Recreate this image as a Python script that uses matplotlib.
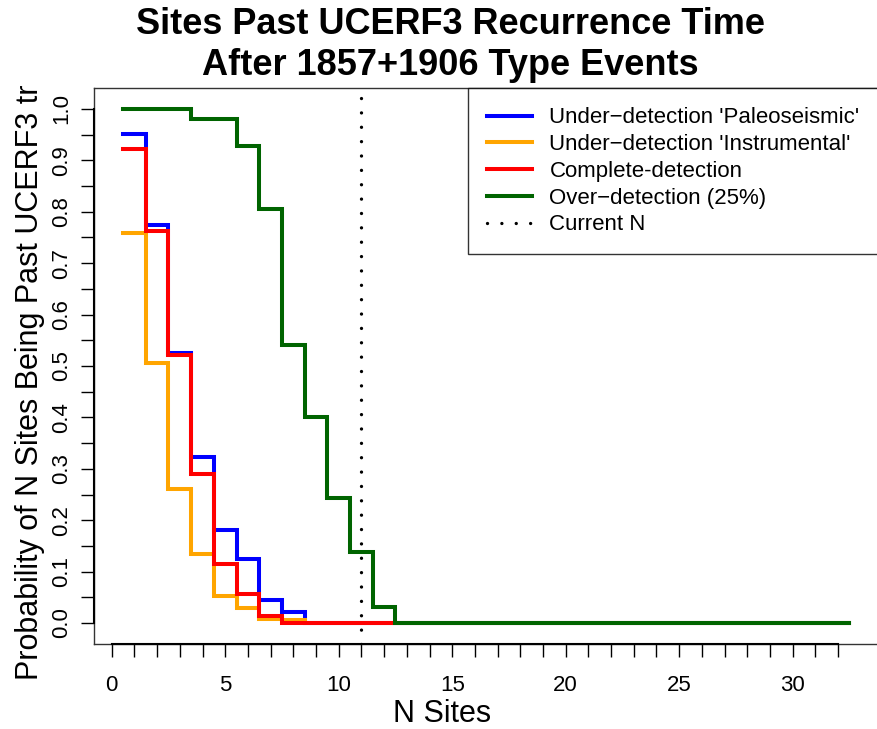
import numpy as np
import matplotlib
matplotlib.use("Agg")
import matplotlib.pyplot as plt

# Probability that N sites are past their UCERF3 recurrence time, N = 1..32
n_sites = np.arange(1, 33)
paleo = [0.951, 0.774, 0.525, 0.323, 0.181, 0.124, 0.045, 0.022] + [0.0] * 24
instrumental = [0.758, 0.505, 0.261, 0.134, 0.053, 0.030, 0.008, 0.005] + [0.0] * 24
complete = [0.922, 0.763, 0.521, 0.289, 0.115, 0.056, 0.014, 0.0] + [0.0] * 24
over = [1.0, 1.0, 1.0, 0.980, 0.980, 0.928, 0.805, 0.541, 0.401, 0.244,
        0.138, 0.032] + [0.0] * 20
current_n = 11

series = [
    ("Under\u2212detection 'Paleoseismic'", paleo, "#0000FF"),
    ("Under\u2212detection 'Instrumental'", instrumental, "#FFA500"),
    ("Complete-detection", complete, "#FF0000"),
    ("Over\u2212detection (25%)", over, "#006400"),
]

plt.rcParams["font.family"] = ["Liberation Sans", "DejaVu Sans"]

W, H = 877, 729
fig = plt.figure(figsize=(W / 100, H / 100), dpi=100)
left, right, top, bottom = 94, 878.5, 88.4, 643.6
ax = fig.add_axes([left / W, (H - bottom) / H, (right - left) / W, (bottom - top) / H])

edges = np.append(n_sites - 0.5, n_sites[-1] + 0.5)
handles = []
for label, vals, color in series:
    y = np.append(vals, vals[-1])
    h, = ax.step(edges, y, where="post", color=color, lw=2.9, label=label,
                 solid_joinstyle="miter")
    handles.append(h)

vl = ax.axvline(current_n, color="black", lw=2.4, linestyle=(0, (0.01, 4.3)),
                dash_capstyle="round", label="Current N")
handles.append(vl)

xmin, xmax = edges[0], edges[-1]
ax.set_xlim(xmin - 0.04 * (xmax - xmin), xmax + 0.04 * (xmax - xmin))
ax.set_ylim(-0.04, 1.04)

ax.set_xticks(np.arange(0, 33))
ax.set_xticklabels([str(v) if v % 5 == 0 else "" for v in range(33)])
yt = np.arange(0, 1.0001, 0.05)
ax.set_yticks(yt)
ax.set_yticklabels([f"{v:.1f}" if i % 2 == 0 else "" for i, v in enumerate(yt)],
                   rotation=90, va="center")

ax.tick_params(axis="both", direction="out", length=9.5, width=1.0, color="black",
               labelsize=16)
ax.tick_params(axis="x", pad=13)
ax.tick_params(axis="y", pad=6)
for s in ax.spines.values():
    s.set_color("#333333")
    s.set_linewidth(1.0)

# axis lines spanning the tick range
ax.plot([0, 32], [-0.04, -0.04], color="black", lw=1.5, clip_on=False, zorder=5)
ax.plot([xmin - 0.04 * (xmax - xmin)] * 2, [0, 1], color="black", lw=1.5, clip_on=False, zorder=5)

ax.set_xlabel("N Sites", fontsize=22)
ax.xaxis.set_label_coords((442 - left) / (right - left), -(714 - bottom) / (bottom - top))
ax.xaxis.label.set_va("center")
ax.set_ylabel("Probability of N Sites Being Past UCERF3 tr", fontsize=22)
ax.yaxis.set_label_coords(-(left - 30) / (right - left), (bottom - 382) / (bottom - top))
ax.yaxis.label.set_va("center")

fig.text(450 / W, 1 - 45 / H, "Sites Past UCERF3 Recurrence Time\nAfter 1857+1906 Type Events",
         fontsize=26, fontweight="bold", ha="center", va="center", linespacing=1.22)

leg = ax.legend(handles=handles, loc="upper right", bbox_to_anchor=(1.0, 1.0),
                borderaxespad=0, fontsize=16, frameon=True, fancybox=False,
                handlelength=2.0, handletextpad=0.8, labelspacing=0.26,
                borderpad=0.85)
leg.get_frame().set_edgecolor("black")
leg.get_frame().set_linewidth(1.0)

fig.savefig("out.png", dpi=100)
